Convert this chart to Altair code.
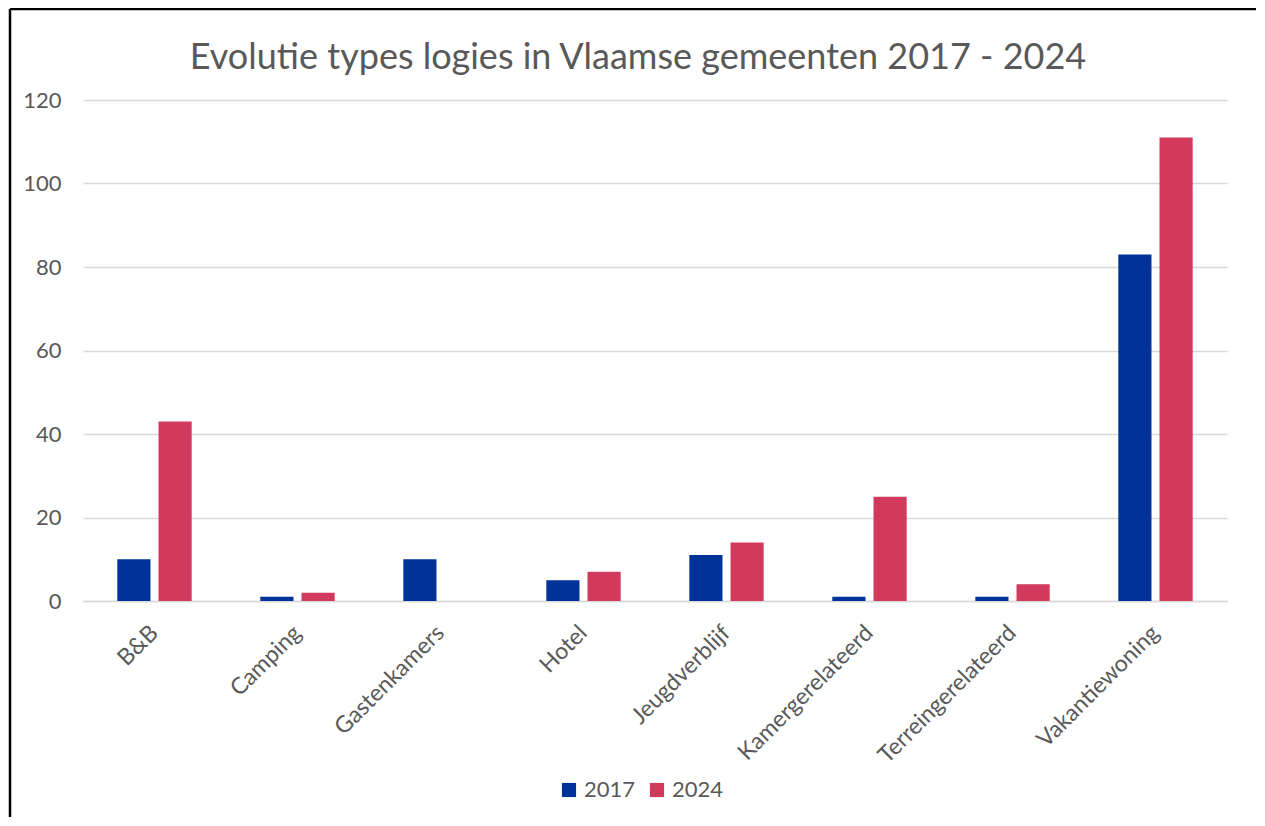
import altair as alt
import pandas as pd

categories = ["B&B", "Camping", "Gastenkamers", "Hotel", "Jeugdverblijf",
              "Kamergerelateerd", "Terreingerelateerd", "Vakantiewoning"]
years = ["2017", "2024"]
values_2017 = [10, 1, 10, 5, 11, 1, 1, 83]
values_2024 = [43, 2, 0, 7, 14, 25, 4, 111]
y_ticks = [0, 20, 40, 60, 80, 100, 120]
colors = ["#003399", "#D13A5C"]
title_text = "Evolutie types logies in Vlaamse gemeenten 2017 - 2024"

rows = []
for c, a, b in zip(categories, values_2017, values_2024):
    rows.append({"cat": c, "year": "2017", "value": a})
    rows.append({"cat": c, "year": "2024", "value": b})
df = pd.DataFrame(rows)

W, H = 1144, 501
FONT = "Lato"
GREY = "#595959"

bars = alt.Chart(df).mark_bar().encode(
    x=alt.X("cat:N", sort=categories, title=None,
            scale=alt.Scale(paddingInner=0.48, paddingOuter=0.24),
            axis=alt.Axis(labelAngle=-45, labelAlign="right", labelBaseline="middle",
                          labelPadding=28, labelFontSize=23, labelLimit=0,
                          ticks=False, domain=True,
                          domainColor="#D9D9D9", domainWidth=1.5, grid=False)),
    xOffset=alt.XOffset("year:N", sort=years, scale=alt.Scale(paddingInner=0.195)),
    y=alt.Y("value:Q", title=None,
            scale=alt.Scale(domain=[0, 120], nice=False),
            axis=alt.Axis(values=y_ticks, ticks=False, domain=False, labelPadding=22,
                          labelFontSize=22,
                          grid=True, gridColor="#D9D9D9", gridWidth=1.5)),
    color=alt.Color("year:N", sort=years,
                    scale=alt.Scale(domain=years, range=colors),
                    legend=alt.Legend(title=None, orient="none", direction="horizontal",
                                      legendX=475, legendY=679, symbolType="square",
                                      symbolSize=200, symbolStrokeWidth=0,
                                      labelFontSize=22, labelFont=FONT, labelColor=GREY,
                                      columnPadding=10, labelOffset=4)),
)

top_edge = alt.Chart(alt.Data(values=[{}])).mark_rule(
    color="black", strokeWidth=2.5
).encode(x=alt.value(-73), x2=alt.value(W + 29), y=alt.value(-91))

left_edge = alt.Chart(alt.Data(values=[{}])).mark_rule(
    color="black", strokeWidth=2.5
).encode(x=alt.value(-73), y=alt.value(-91), y2=alt.value(H + 216))

title = alt.Chart(alt.Data(values=[{}])).mark_text(
    font=FONT, fontSize=36, color=GREY, align="center", baseline="middle"
).encode(x=alt.value(W / 2 - 17), y=alt.value(-42), text=alt.value(title_text))

chart = alt.layer(bars, top_edge, left_edge, title).properties(
    width=W, height=H,
    padding={"left": 75, "top": 92, "right": 30, "bottom": 217},
    autosize=alt.AutoSizeParams(type="none"),
).configure_axis(
    labelFont=FONT, labelFontSize=21, labelColor=GREY,
).configure_view(stroke=None)

chart.save("out.html", embed_options={"renderer": "svg", "actions": False})
